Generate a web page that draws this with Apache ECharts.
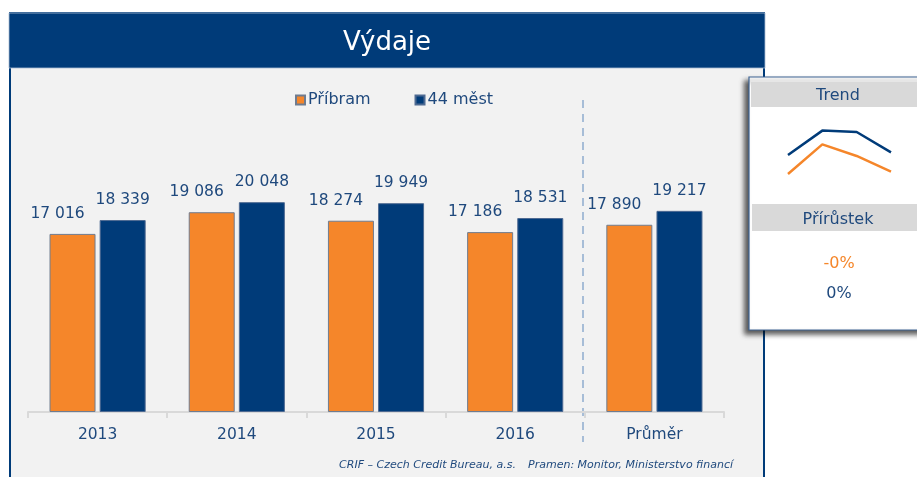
<!DOCTYPE html>
<html>
<head>
<meta charset="utf-8">
<script src="https://cdn.jsdelivr.net/npm/echarts@6/dist/echarts.min.js"></script>
<style>
  html, body { margin: 0; padding: 0; background: #fff; }
  #main { width: 917px; height: 477px; }
</style>
</head>
<body>
<div id="main"></div>
<script>
// data
var categories = ['2013', '2014', '2015', '2016', 'Průměr'];
var pribram = [17016, 19086, 18274, 17186, 17890];
var mest44 = [18339, 20048, 19949, 18531, 19217];
var trendYears = ['2013', '2014', '2015', '2016'];
var trendPribram = [17016, 19086, 18274, 17186];
var trendMest = [18339, 20048, 19949, 18531];
var growthPribram = '-0%';
var growthMest = '0%';

var ORANGE = '#F5862A';
var BLUE = '#003B79';
var TEXT = '#1F497D';
var FONT = 'DejaVu Sans';

var fmt = function (v) {
    return String(v).replace(/\B(?=(\d{3})+(?!\d))/g, ' ');
};

var chart = echarts.init(document.getElementById('main'));

var frame = [
    // panel background + borders
    { type: 'rect', shape: { x: 10, y: 13, width: 754, height: 470 },
      style: { fill: '#F2F2F2', stroke: BLUE, lineWidth: 2 }, z: -10 },
    { type: 'rect', shape: { x: 9, y: 13, width: 756, height: 55 },
      style: { fill: BLUE, stroke: '#A9BCD3', lineWidth: 0.8 }, z: -9 },
    { type: 'text', x: 387, y: 43, style: { text: 'Výdaje', fill: '#fff', font: '26px ' + FONT,
      textAlign: 'center', textVerticalAlign: 'middle' } },
    // footer
    { type: 'text', x: 516, y: 465, style: { text: 'CRIF – Czech Credit Bureau, a.s.', fill: TEXT,
      font: 'italic 11px ' + FONT, textAlign: 'right', textVerticalAlign: 'middle' } },
    { type: 'text', x: 733, y: 465, style: { text: 'Pramen: Monitor, Ministerstvo financí', fill: TEXT,
      font: 'italic 11px ' + FONT, textAlign: 'right', textVerticalAlign: 'middle' } },
    // side box
    { type: 'rect', shape: { x: 749, y: 77, width: 180, height: 253 },
      style: { fill: '#fff', stroke: '#3E6494', lineWidth: 1.2,
        shadowBlur: 5, shadowColor: 'rgba(0,0,0,0.65)', shadowOffsetX: -4, shadowOffsetY: 4 }, z: 1 },
    { type: 'rect', shape: { x: 751, y: 82, width: 170, height: 25 }, style: { fill: '#D9D9D9' }, z: 2 },
    { type: 'text', x: 838, y: 96, style: { text: 'Trend', fill: TEXT, font: '16px ' + FONT,
      textAlign: 'center', textVerticalAlign: 'middle' }, z: 3 },
    { type: 'rect', shape: { x: 752, y: 204, width: 170, height: 27 }, style: { fill: '#D9D9D9' }, z: 2 },
    { type: 'text', x: 838, y: 219.5, style: { text: 'Přírůstek', fill: TEXT, font: '16px ' + FONT,
      textAlign: 'center', textVerticalAlign: 'middle' }, z: 3 },
    { type: 'text', x: 839, y: 264, style: { text: growthPribram, fill: ORANGE, font: '16px ' + FONT,
      textAlign: 'center', textVerticalAlign: 'middle' }, z: 3 },
    { type: 'text', x: 839, y: 294, style: { text: growthMest, fill: TEXT, font: '16px ' + FONT,
      textAlign: 'center', textVerticalAlign: 'middle' }, z: 3 }
];

var option = {
    animation: false,
    textStyle: { fontFamily: FONT },
    legend: {
        data: [{ name: 'Příbram', icon: 'rect' }, { name: '44 měst', icon: 'rect' }],
        left: 290, top: 87,
        itemWidth: 9, itemHeight: 9, itemGap: 44,
        textStyle: { fontSize: 16, color: TEXT, padding: [0, 0, 0, -2] },
        selectedMode: false
    },
    grid: [
        { left: 28, right: 193, top: 98, bottom: 65 },
        { left: 788, right: 26, top: 117, bottom: 288.5, z: 5 }
    ],
    xAxis: [{
        type: 'category', gridIndex: 0, data: categories,
        axisLine: { lineStyle: { color: '#D9D9D9', width: 2 } },
        axisTick: { show: true, length: 6, lineStyle: { color: '#D9D9D9', width: 2 } },
        axisLabel: { fontSize: 15.5, color: TEXT, margin: 15 }
    }, {
        type: 'category', gridIndex: 1, data: trendYears, boundaryGap: false, show: false
    }],
    yAxis: [{
        type: 'value', gridIndex: 0, min: 0, max: 30000, show: false, splitLine: { show: false }
    }, {
        type: 'value', gridIndex: 1, min: 16000, max: 21000, show: false, splitLine: { show: false }
    }],
    series: [{
        name: 'Příbram', type: 'bar', data: pribram, barWidth: 46, barGap: '9%',
        itemStyle: { color: ORANGE, borderColor: '#6F7C90', borderWidth: 1 },
        label: { show: true, position: 'top', distance: 12, offset: [-15, 0], fontSize: 15.5, color: TEXT,
            formatter: function (p) { return fmt(p.value); } }
    }, {
        name: '44 měst', type: 'bar', data: mest44, barWidth: 46,
        itemStyle: { color: BLUE, borderColor: '#4E6A92', borderWidth: 1 },
        label: { show: true, position: 'top', distance: 12, fontSize: 15.5, color: TEXT,
            formatter: function (p) { return fmt(p.value); } }
    }, {
        name: 'trend Příbram', type: 'line', xAxisIndex: 1, yAxisIndex: 1, data: trendPribram,
        symbol: 'none', lineStyle: { color: ORANGE, width: 2.5 }, z: 10
    }, {
        name: 'trend 44 měst', type: 'line', xAxisIndex: 1, yAxisIndex: 1, data: trendMest,
        symbol: 'none', lineStyle: { color: BLUE, width: 2.5 }, z: 10
    }],
    graphic: frame
};
chart.setOption(option);

// dashed separator between 2016 and Průměr
var xa = chart.convertToPixel({ xAxisIndex: 0 }, '2016');
var xb = chart.convertToPixel({ xAxisIndex: 0 }, 'Průměr');
var sepX = Math.round((xa + xb) / 2) - 2;
chart.setOption({
    graphic: frame.concat([{
        type: 'line', shape: { x1: sepX, y1: 100, x2: sepX, y2: 442 },
        style: { stroke: '#A7BDD7', lineWidth: 2, lineDash: [8, 6] }, z: 0
    }])
}, { replaceMerge: ['graphic'] });
</script>
</body>
</html>
